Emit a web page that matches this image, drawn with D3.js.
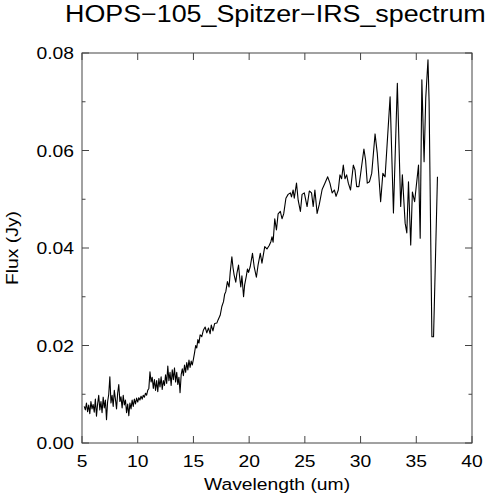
<!DOCTYPE html>
<html><head><meta charset="utf-8">
<script src="https://cdn.jsdelivr.net/npm/d3@7"></script>
<style>
html,body{margin:0;padding:0;background:#fff;}
svg{display:block;}
text{font-family:"Liberation Sans",Arial,Helvetica,sans-serif;fill:#000;}
</style></head>
<body>
<svg id="chart" width="492" height="500"></svg>
<script>
const titleText = "HOPS\u2212105_Spitzer\u2212IRS_spectrum";
const xLabel = "Wavelength (um)";
const yLabel = "Flux (Jy)";
const xTicks = [5, 10, 15, 20, 25, 30, 35, 40];
const yTicks = [0.00, 0.02, 0.04, 0.06, 0.08];
const yMinorTicks = [0.01, 0.03, 0.05, 0.07];

const wavelength = [
5.2,5.3,5.4,5.5,5.6,5.7,5.8,5.9,6.0,6.1,6.2,6.3,6.4,6.5,6.6,6.7,6.8,6.9,7.0,7.1,
7.2,7.3,7.4,7.5,7.6,7.7,7.8,7.9,8.0,8.1,8.2,8.3,8.4,8.5,8.6,8.7,8.8,8.9,9.0,9.1,
9.2,9.3,9.4,9.5,9.6,9.7,9.8,9.9,10.0,10.1,10.2,10.3,10.4,10.5,10.6,10.7,10.8,10.9,11.0,11.1,
11.2,11.3,11.4,11.5,11.6,11.7,11.8,11.9,12.0,12.1,12.2,12.3,12.4,12.5,12.6,12.7,12.8,12.9,13.0,13.1,
13.2,13.3,13.4,13.5,13.6,13.7,13.8,13.9,14.0,14.1,14.2,14.3,14.4,14.5,14.6,14.7,14.8,14.9,15.0,15.1,
15.2,15.3,15.4,15.5,15.6,15.75,15.9,16.05,16.2,16.35,16.5,16.6,16.75,16.9,17.1,17.2,17.4,17.55,17.7,17.8,
17.9,18.05,18.2,18.3,18.45,18.55,18.65,18.8,18.9,19.05,19.15,19.25,19.35,19.5,19.6,19.75,19.85,19.95,20.1,20.3,
20.45,20.65,20.8,21.0,21.15,21.4,21.6,21.8,21.95,22.05,22.15,22.3,22.45,22.6,22.8,22.95,23.1,23.3,23.5,23.7,
23.8,23.95,24.05,24.25,24.4,24.6,24.75,24.95,25.2,25.4,25.6,25.75,25.9,26.1,26.3,26.55,26.8,27.05,27.25,27.45,
27.65,27.8,28.0,28.15,28.3,28.45,28.6,28.75,28.9,29.1,29.35,29.5,29.65,29.85,30.05,30.3,30.45,30.6,30.8,31.0,
31.3,31.5,31.8,32.0,32.2,32.65,32.95,33.3,33.6,33.75,34.0,34.15,34.3,34.5,34.65,34.85,35.2,35.35,35.5,35.7,
35.85,36.05,36.15,36.4,36.55,36.9
];
const flux = [
0.0075,0.0068,0.0082,0.0064,0.0078,0.0060,0.0085,0.0070,0.0079,0.0063,0.0090,0.0055,0.0080,0.0098,0.0068,0.0085,0.0062,0.0094,0.0072,0.0088,
0.0048,0.0085,0.0100,0.0136,0.0082,0.0098,0.0075,0.0108,0.0090,0.0070,0.0102,0.0120,0.0085,0.0095,0.0072,0.0098,0.0078,0.0088,0.0062,0.0080,
0.0056,0.0082,0.0070,0.0088,0.0075,0.0090,0.0080,0.0092,0.0084,0.0093,0.0088,0.0096,0.0090,0.0098,0.0094,0.0102,0.0098,0.0108,0.0112,0.0146,
0.0125,0.0135,0.0112,0.0130,0.0108,0.0128,0.0105,0.0132,0.0115,0.0136,0.0110,0.0128,0.0118,0.0140,0.0122,0.0158,0.0128,0.0145,0.0118,0.0150,
0.0130,0.0154,0.0125,0.0145,0.0120,0.0135,0.0103,0.0140,0.0152,0.0138,0.0160,0.0145,0.0165,0.0150,0.0170,0.0155,0.0168,0.0160,0.0172,0.0185,
0.0200,0.0195,0.0212,0.0205,0.0222,0.0218,0.0232,0.0238,0.0226,0.0236,0.0224,0.0242,0.0230,0.0245,0.0246,0.0252,0.0262,0.0280,0.0290,0.0305,
0.0310,0.0331,0.0320,0.0350,0.0382,0.0360,0.0345,0.0330,0.0348,0.0365,0.0340,0.0320,0.0343,0.0300,0.0325,0.0343,0.0357,0.0350,0.0362,0.0389,
0.0362,0.0340,0.0365,0.0389,0.0369,0.0403,0.0398,0.0405,0.0413,0.0423,0.0412,0.0460,0.0437,0.0470,0.0475,0.0460,0.0470,0.0502,0.0510,0.0513,
0.0505,0.0519,0.0502,0.0533,0.0498,0.0475,0.0510,0.0513,0.0485,0.0517,0.0513,0.0485,0.0519,0.0471,0.0490,0.0520,0.0533,0.0546,0.0533,0.0513,
0.0519,0.0506,0.0519,0.0550,0.0542,0.0570,0.0542,0.0550,0.0533,0.0519,0.0570,0.0560,0.0526,0.0526,0.0560,0.0603,0.0580,0.0533,0.0536,0.0553,
0.0634,0.0594,0.0495,0.0553,0.0546,0.0710,0.0472,0.0738,0.0485,0.0550,0.0451,0.0431,0.0536,0.0406,0.0515,0.0495,0.0570,0.0420,0.0745,0.0577,
0.0708,0.0786,0.0700,0.0218,0.0218,0.0546
];

const SX = 1.17;
const svg = d3.select("#chart");
const L = 82, R = 472, T = 53, B = 443;
const x = d3.scaleLinear().domain([5, 40]).range([L, R]);
const y = d3.scaleLinear().domain([0, 0.08]).range([B, T]);

const n = Math.min(wavelength.length, flux.length);
const data = wavelength.slice(0, n).map((w, i) => [w, flux[i]]);

// spectrum
svg.append("path")
  .datum(data)
  .attr("fill", "none")
  .attr("stroke", "#000")
  .attr("stroke-width", 1.1)
  .attr("stroke-linejoin", "round")
  .attr("d", d3.line().x(d => x(d[0])).y(d => y(d[1])));

// frame
svg.append("rect").attr("x", L).attr("y", T).attr("width", R - L).attr("height", B - T)
  .attr("fill", "none").attr("stroke", "#444").attr("stroke-width", 1);

const tk = svg.append("g").attr("stroke", "#444").attr("stroke-width", 1);
xTicks.forEach(v => {
  tk.append("line").attr("x1", x(v)).attr("x2", x(v)).attr("y1", B).attr("y2", B - 7);
  tk.append("line").attr("x1", x(v)).attr("x2", x(v)).attr("y1", T).attr("y2", T + 7);
});
yTicks.forEach(v => {
  tk.append("line").attr("x1", L).attr("x2", L + 7).attr("y1", y(v)).attr("y2", y(v));
  tk.append("line").attr("x1", R).attr("x2", R - 7).attr("y1", y(v)).attr("y2", y(v));
});
yMinorTicks.forEach(v => {
  tk.append("line").attr("x1", L).attr("x2", L + 3.5).attr("y1", y(v)).attr("y2", y(v));
  tk.append("line").attr("x1", R).attr("x2", R - 3.5).attr("y1", y(v)).attr("y2", y(v));
});

function label(px, py, txt, size, anchor, rot) {
  const g = svg.append("g").attr("transform", `translate(${px},${py})` + (rot ? ` rotate(${rot})` : ""));
  g.append("text").attr("transform", `scale(${SX},1)`)
    .attr("text-anchor", anchor).attr("font-size", size).text(txt);
}

xTicks.forEach(v => label(x(v), 467, String(v), 16.5, "middle"));
yTicks.forEach(v => label(74, y(v) + 6, v.toFixed(2), 16.5, "end"));

// title, stretched to the reference width (65 .. 487)
const tg = svg.append("g");
const tt = tg.append("text").attr("font-size", 23.3).text(titleText);
const tw = tt.node().getBBox().width || 360;
tg.attr("transform", `translate(65,21.7) scale(${421 / tw},1)`);

label((L + R) / 2, 490, xLabel, 16.5, "middle");
label(18, (T + B) / 2, yLabel, 16.5, "middle", -90);
</script>
</body></html>
